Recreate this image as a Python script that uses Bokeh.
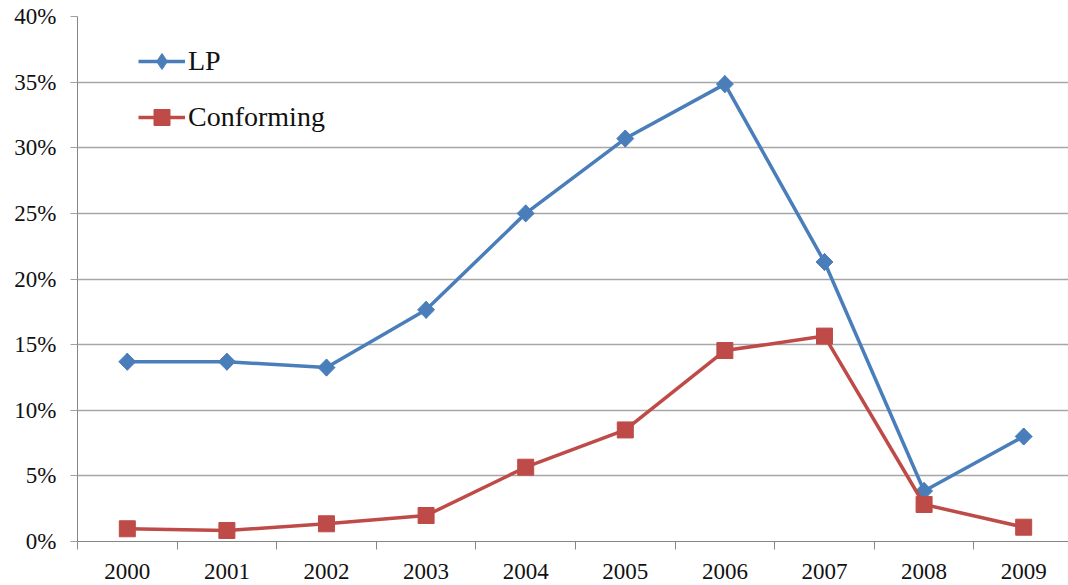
import numpy as np
from bokeh.plotting import figure
from bokeh.models import Range1d, FixedTicker, PrintfTickFormatter, Legend
from bokeh.embed import file_html
from bokeh.resources import INLINE

years = ["2000", "2001", "2002", "2003", "2004", "2005", "2006", "2007", "2008", "2009"]
lp = [13.7, 13.7, 13.25, 17.65, 25.0, 30.7, 34.85, 21.3, 3.85, 8.0]
conforming = [0.97, 0.84, 1.35, 1.98, 5.66, 8.5, 14.55, 15.65, 2.82, 1.09]
y_ticks = [0, 5, 10, 15, 20, 25, 30, 35, 40]

FONT = "Liberation Serif"
BLUE = "#4a7ebb"
RED = "#be4b48"
AXIS = "#868686"

x = list(range(len(years)))

p = figure(width=1068, height=585, output_backend="svg", toolbar_location=None,
           x_range=Range1d(-0.5, 9.45), y_range=Range1d(0, 40),
           min_border_left=77, min_border_right=0, min_border_top=16, min_border_bottom=44)
p.outline_line_color = None
p.background_fill_color = "white"

l1 = p.line(x, lp, line_color=BLUE, line_width=3.5)
# diamond used for the legend swatch; hidden under the rotated square below
m1_leg = p.scatter(x, lp, marker="diamond", size=17, fill_color=BLUE, line_color=BLUE)
m1 = p.scatter(x, lp, marker="square", angle=np.pi / 4, size=12,
               fill_color=BLUE, line_color=BLUE)
l2 = p.line(x, conforming, line_color=RED, line_width=3.5)
m2 = p.scatter(x, conforming, marker="square", size=16,
               fill_color=RED, line_color=RED)

# x axis
xa = p.xaxis[0]
xa.ticker = FixedTicker(ticks=x, minor_ticks=[i - 0.5 for i in range(len(years) + 1)])
xa.major_label_overrides = {i: y for i, y in enumerate(years)}
xa.major_tick_out = 0
xa.major_tick_in = 0
xa.minor_tick_out = 8
xa.minor_tick_in = 0
xa.minor_tick_line_color = AXIS
xa.axis_line_color = AXIS
xa.major_label_text_font = FONT
xa.major_label_text_font_size = "23px"
xa.major_label_text_color = "#111111"
xa.major_label_standoff = 14

# y axis
ya = p.yaxis[0]
ya.ticker = FixedTicker(ticks=y_ticks)
ya.formatter = PrintfTickFormatter(format="%d%%")
ya.major_tick_out = 7
ya.major_tick_in = 0
ya.minor_tick_out = 0
ya.minor_tick_in = 0
ya.major_tick_line_color = "#a0a0a0"
ya.axis_line_color = AXIS
ya.major_label_text_font = FONT
ya.major_label_text_font_size = "23px"
ya.major_label_text_color = "#111111"
ya.major_label_standoff = 14

p.xgrid.grid_line_color = None
p.ygrid.ticker = FixedTicker(ticks=y_ticks)
p.ygrid.grid_line_color = "#a6a6a6"
p.ygrid.grid_line_width = 1.3

legend = Legend(items=[("LP", [l1, m1_leg]), ("Conforming", [l2, m2])],
                location=(61, 404))
legend.border_line_color = None
legend.background_fill_alpha = 0
legend.padding = 0
legend.margin = 0
legend.glyph_width = 47
legend.glyph_height = 40
legend.label_height = 40
legend.spacing = 16
legend.label_standoff = 3
legend.label_text_font = FONT
legend.label_text_font_size = "28px"
legend.label_text_color = "#111111"
legend.label_text_baseline = "middle"
p.add_layout(legend, "center")

open("out.html", "w").write(file_html(p, INLINE))
